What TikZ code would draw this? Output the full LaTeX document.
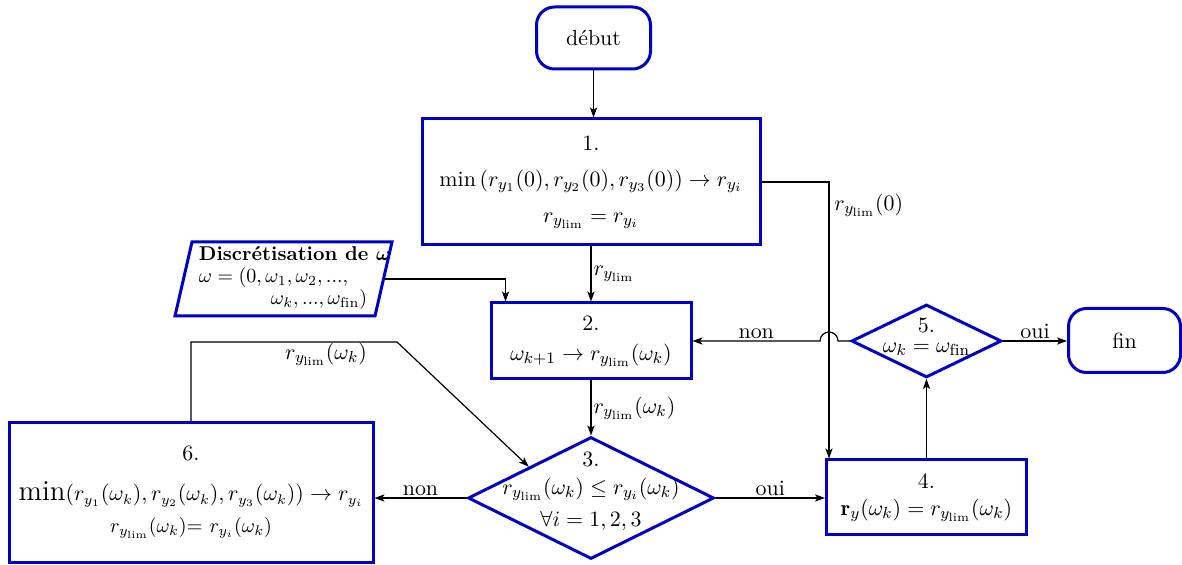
\documentclass[tikz,border=0pt,11pt]{standalone}
\usepackage{amsmath,amssymb,bm}
\usepackage{fontspec}
\usetikzlibrary{shapes.geometric,arrows.meta,calc}
\definecolor{fcblue}{RGB}{0,0,200}
\newcommand{\ylim}{y_{\mathrm{lim}}}
\begin{document}
\begin{tikzpicture}[x=0.5pt,y=-0.5pt,
  box/.style={draw=fcblue,line width=1.5pt,align=center,inner sep=2pt},
  term/.style={box,rounded corners=9pt},
  dec/.style={draw=fcblue,line width=1.5pt,diamond,inner sep=0pt},
  conn/.style={line width=0.6pt,-{Stealth[length=5pt,width=3.6pt,inset=1.2pt]}},
  plain/.style={line width=0.6pt},
  lab/.style={inner sep=1pt}]
\useasboundingbox (0,0) rectangle (1182,565);
% nodes
\node[term,minimum width=57pt,minimum height=31pt] (start) at (593.5,38) {début};
\node[box,minimum width=169pt,minimum height=63pt] (b1) at (591,182)
  {1.\\[4.4pt] $\min\left(r_{y_1}(0),r_{y_2}(0),r_{y_3}(0)\right)\rightarrow r_{y_i}$\\[4.4pt] $r_{\ylim}=r_{y_i}$};
\node[box,minimum width=100pt,minimum height=38pt] (b2) at (591,341)
  {2.\\[1.4pt] $\omega_{k+1}\rightarrow r_{\ylim}(\omega_k)$};
\node[dec,minimum width=123pt,minimum height=61pt] (d3) at (591,498) {};
\node[align=center,inner sep=0pt] (d3t) at (591,491)
  {3.\\[0.4pt] $r_{\ylim}(\omega_k)\leq r_{y_i}(\omega_k)$\\[2.4pt] $\forall i=1,2,3$};
\node[box,minimum width=100pt,minimum height=37.5pt] (b4) at (926.5,497.5)
  {4.\\ $\mathbf{r}_y(\omega_k)=r_{\ylim}(\omega_k)$};
\node[dec,minimum width=75pt,minimum height=36.5pt] (d5) at (926.5,341) {};
\node[align=center,inner sep=0pt] (d5t) at (926.5,337)
  {5.\\[-4pt] $\omega_k=\omega_{\mathrm{fin}}$};
\node[term,minimum width=56pt,minimum height=32pt] (end) at (1124.5,340.5) {fin};
\node[box,minimum width=182pt,minimum height=70pt] (b6) at (191,492.5)
  {6.\\[6.4pt] {\Large$\min$}{\fontsize{10.5}{12.6}\selectfont$(r_{y_1}(\omega_k),r_{y_2}(\omega_k),r_{y_3}(\omega_k))\rightarrow r_{y_i}$}\\[2.4pt]
   {\fontsize{10.3}{12.4}\selectfont$r_{\ylim}(\omega_k)$= $r_{y_i}(\omega_k)$}};
\node[inner sep=0pt,minimum width=100pt,minimum height=37pt] (disc) at (283.5,279) {};
\node[inner sep=0pt] (disct) at (295,278)
  {\small\begin{tabular}{@{}l@{}}\textbf{Discrétisation de $\bm{\omega}$}\\[-1pt]
   $\omega=(0,\omega_1,\omega_2,...,$\\[-1pt]
   \multicolumn{1}{@{}r@{}}{$\omega_k,...,\omega_{\mathrm{fin}})$\kern12pt}\end{tabular}};
\draw[draw=fcblue,line width=1.5pt,line join=miter]
  (disc.center) ++(-91.5,-37) -- ++(200,0) -- ++(-17,74) -- ++(-200,0) -- cycle;
% connectors
\draw[conn] (start) -- (start |- b1.north);
\draw[conn] (b1) -- node[lab,right] {$r_{\ylim}$} (b2);
\draw[conn] (disc.east) -| ($(b2.north west)+(16,0)$);
\draw[conn] (b1.east) -| ($(b4.north west)+(4,0)$);
\node[lab,right] (l0) at (832,205) {$r_{\ylim}(0)$};
\draw[conn] (b2) -- node[lab,right] {$r_{\ylim}(\omega_k)$} (d3);
\draw[conn] (d3.east) -- node[lab,above] {oui} (d3.east -| b4.west);
\draw[conn] (d3.west) -- node[lab,above] {non} (d3.west -| b6.east);
\draw[conn] (b4.north) -- (d5.south);
\draw[conn] (d5.east) -- node[lab,above] {oui} (d5.east -| end.west);
\draw[conn] (d5.west) -- ++(-12,0) arc[start angle=0,end angle=-180,radius=9]
  -- node[lab,above] {non} (b2.east);
\coordinate (k1) at (397,342);
\draw[conn] (b6.north) |- (k1) -- (d3.north west);
\node[lab] (l6) at (326,354) {$r_{\ylim}(\omega_k)$};
\end{tikzpicture}
\end{document}
